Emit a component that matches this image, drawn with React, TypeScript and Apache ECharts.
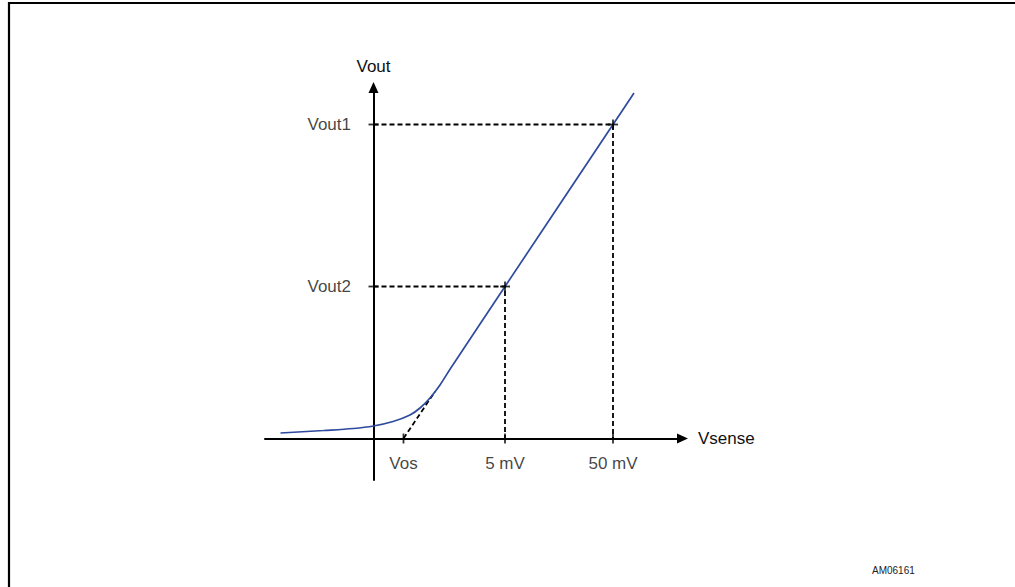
import React, { useEffect, useRef } from "react";
import * as echarts from "echarts";

// Schematic units: 1 unit = 10 px on both axes, origin at the axes crossing
const xTickNames = ["Vos", "5 mV", "50 mV"];
const xTickValues = [3.0, 13.15, 23.95];
const yTickNames = ["Vout2", "Vout1"];
const yTickValues = [15.2, 31.4];

// Transfer curve (Vout vs Vsense)
const curveX = [-9.3, -5, -2, 0, 1.95, 3.65, 4.65, 5.65, 6.65, 7.7, 13.15, 23.95, 26.05];
const curveY = [0.55, 0.8, 1.0, 1.25, 1.7, 2.35, 3.05, 4.05, 5.35, 7.0, 15.2, 31.4, 34.55];

// Extrapolated tangent (dashed) from Vos
const tangentX = [3.0, 6.15];
const tangentY = [0, 4.7];

const FONT = "'Liberation Sans', Arial, Helvetica, sans-serif";

export default function App() {
  const ref = useRef<HTMLDivElement>(null);
  useEffect(() => {
    if (!ref.current) return;
    const chart = echarts.init(ref.current, null, { renderer: "svg" });
    const curve = curveX.map((x, i) => [x, curveY[i]]);
    const tangent = tangentX.map((x, i) => [x, tangentY[i]]);
    const guide1 = [[0, yTickValues[1]], [xTickValues[2], yTickValues[1]], [xTickValues[2], 0]];
    const guide2 = [[0, yTickValues[0]], [xTickValues[1], yTickValues[0]], [xTickValues[1], 0]];
    const vTicks = [
      ...xTickValues.map((v) => [v, 0]),
      [xTickValues[1], yTickValues[0]],
      [xTickValues[2], yTickValues[1]],
    ];
    const hTicks = [
      ...yTickValues.map((v) => [0, v]),
      [xTickValues[1], yTickValues[0]],
      [xTickValues[2], yTickValues[1]],
    ];
    const xLabelData = xTickValues.map((v, i) => ({ name: xTickNames[i], value: [v, 0] }));
    const yLabelData = yTickValues.map((v, i) => ({ name: yTickNames[i], value: [0, v] }));
    const dashed = { color: "#000", width: 1.8, type: [5, 3] as any };
    const labelText = { fontSize: 17, color: "#111", fontFamily: FONT };
    const axisLine = {
      show: true,
      onZero: true,
      symbol: ["none", "triangle"],
      symbolSize: [10, 11],
      lineStyle: { color: "#000", width: 2 },
    };
    chart.setOption({
      animation: false,
      backgroundColor: "#fff",
      grid: { left: 265, right: 332.5, top: 87.5, bottom: 107, containLabel: false },
      xAxis: {
        type: "value",
        min: -10.85,
        max: 30.9,
        name: "Vsense",
        nameLocation: "end",
        nameGap: 15.5,
        nameTextStyle: labelText,
        splitLine: { show: false },
        axisTick: { show: false },
        axisLabel: { show: false },
        axisLine,
      },
      yAxis: {
        type: "value",
        min: -4.15,
        max: 35.1,
        name: "Vout",
        nameLocation: "end",
        nameGap: 13,
        nameTextStyle: labelText,
        splitLine: { show: false },
        axisTick: { show: false },
        axisLabel: { show: false },
        axisLine,
      },
      series: [
        { type: "line", data: guide1, symbol: "none", lineStyle: dashed, z: 3 },
        { type: "line", data: guide2, symbol: "none", lineStyle: dashed, z: 3 },
        { type: "line", data: tangent, symbol: "none", lineStyle: dashed, z: 3 },
        {
          type: "line",
          data: curve,
          symbol: "none",
          smooth: 0.35,
          lineStyle: { color: "#2e4a9e", width: 1.7 },
          z: 4,
        },
        {
          type: "scatter",
          data: vTicks,
          symbol: "rect",
          symbolSize: [1.8, 10],
          itemStyle: { color: "#000" },
          z: 5,
        },
        {
          type: "scatter",
          data: hTicks,
          symbol: "rect",
          symbolSize: [10, 1.8],
          itemStyle: { color: "#000" },
          z: 5,
        },
        {
          type: "scatter",
          data: xLabelData,
          symbol: "circle",
          symbolSize: 1,
          itemStyle: { color: "rgba(0,0,0,0)" },
          label: { show: true, position: "bottom", distance: 15.5, formatter: "{b}", ...labelText },
          z: 6,
        },
        {
          type: "scatter",
          data: yLabelData,
          symbol: "circle",
          symbolSize: 1,
          itemStyle: { color: "rgba(0,0,0,0)" },
          label: { show: true, position: "left", distance: 22, formatter: "{b}", ...labelText },
          z: 6,
        },
      ],
      graphic: [
        { type: "line", shape: { x1: 9, y1: 2, x2: 9, y2: 587 }, style: { stroke: "#000", lineWidth: 2.2 } },
        { type: "line", shape: { x1: 8, y1: 3, x2: 1015, y2: 3 }, style: { stroke: "#000", lineWidth: 2.2 } },
        {
          type: "text",
          x: 872,
          y: 565,
          style: { text: "AM06161", fontSize: 10, fill: "#222", fontFamily: FONT },
        },
      ],
    });
    return () => chart.dispose();
  }, []);
  return (
    <div
      ref={ref}
      style={{ position: "fixed", left: 0, top: 0, width: 1015, height: 587, background: "#fff" }}
    />
  );
}
